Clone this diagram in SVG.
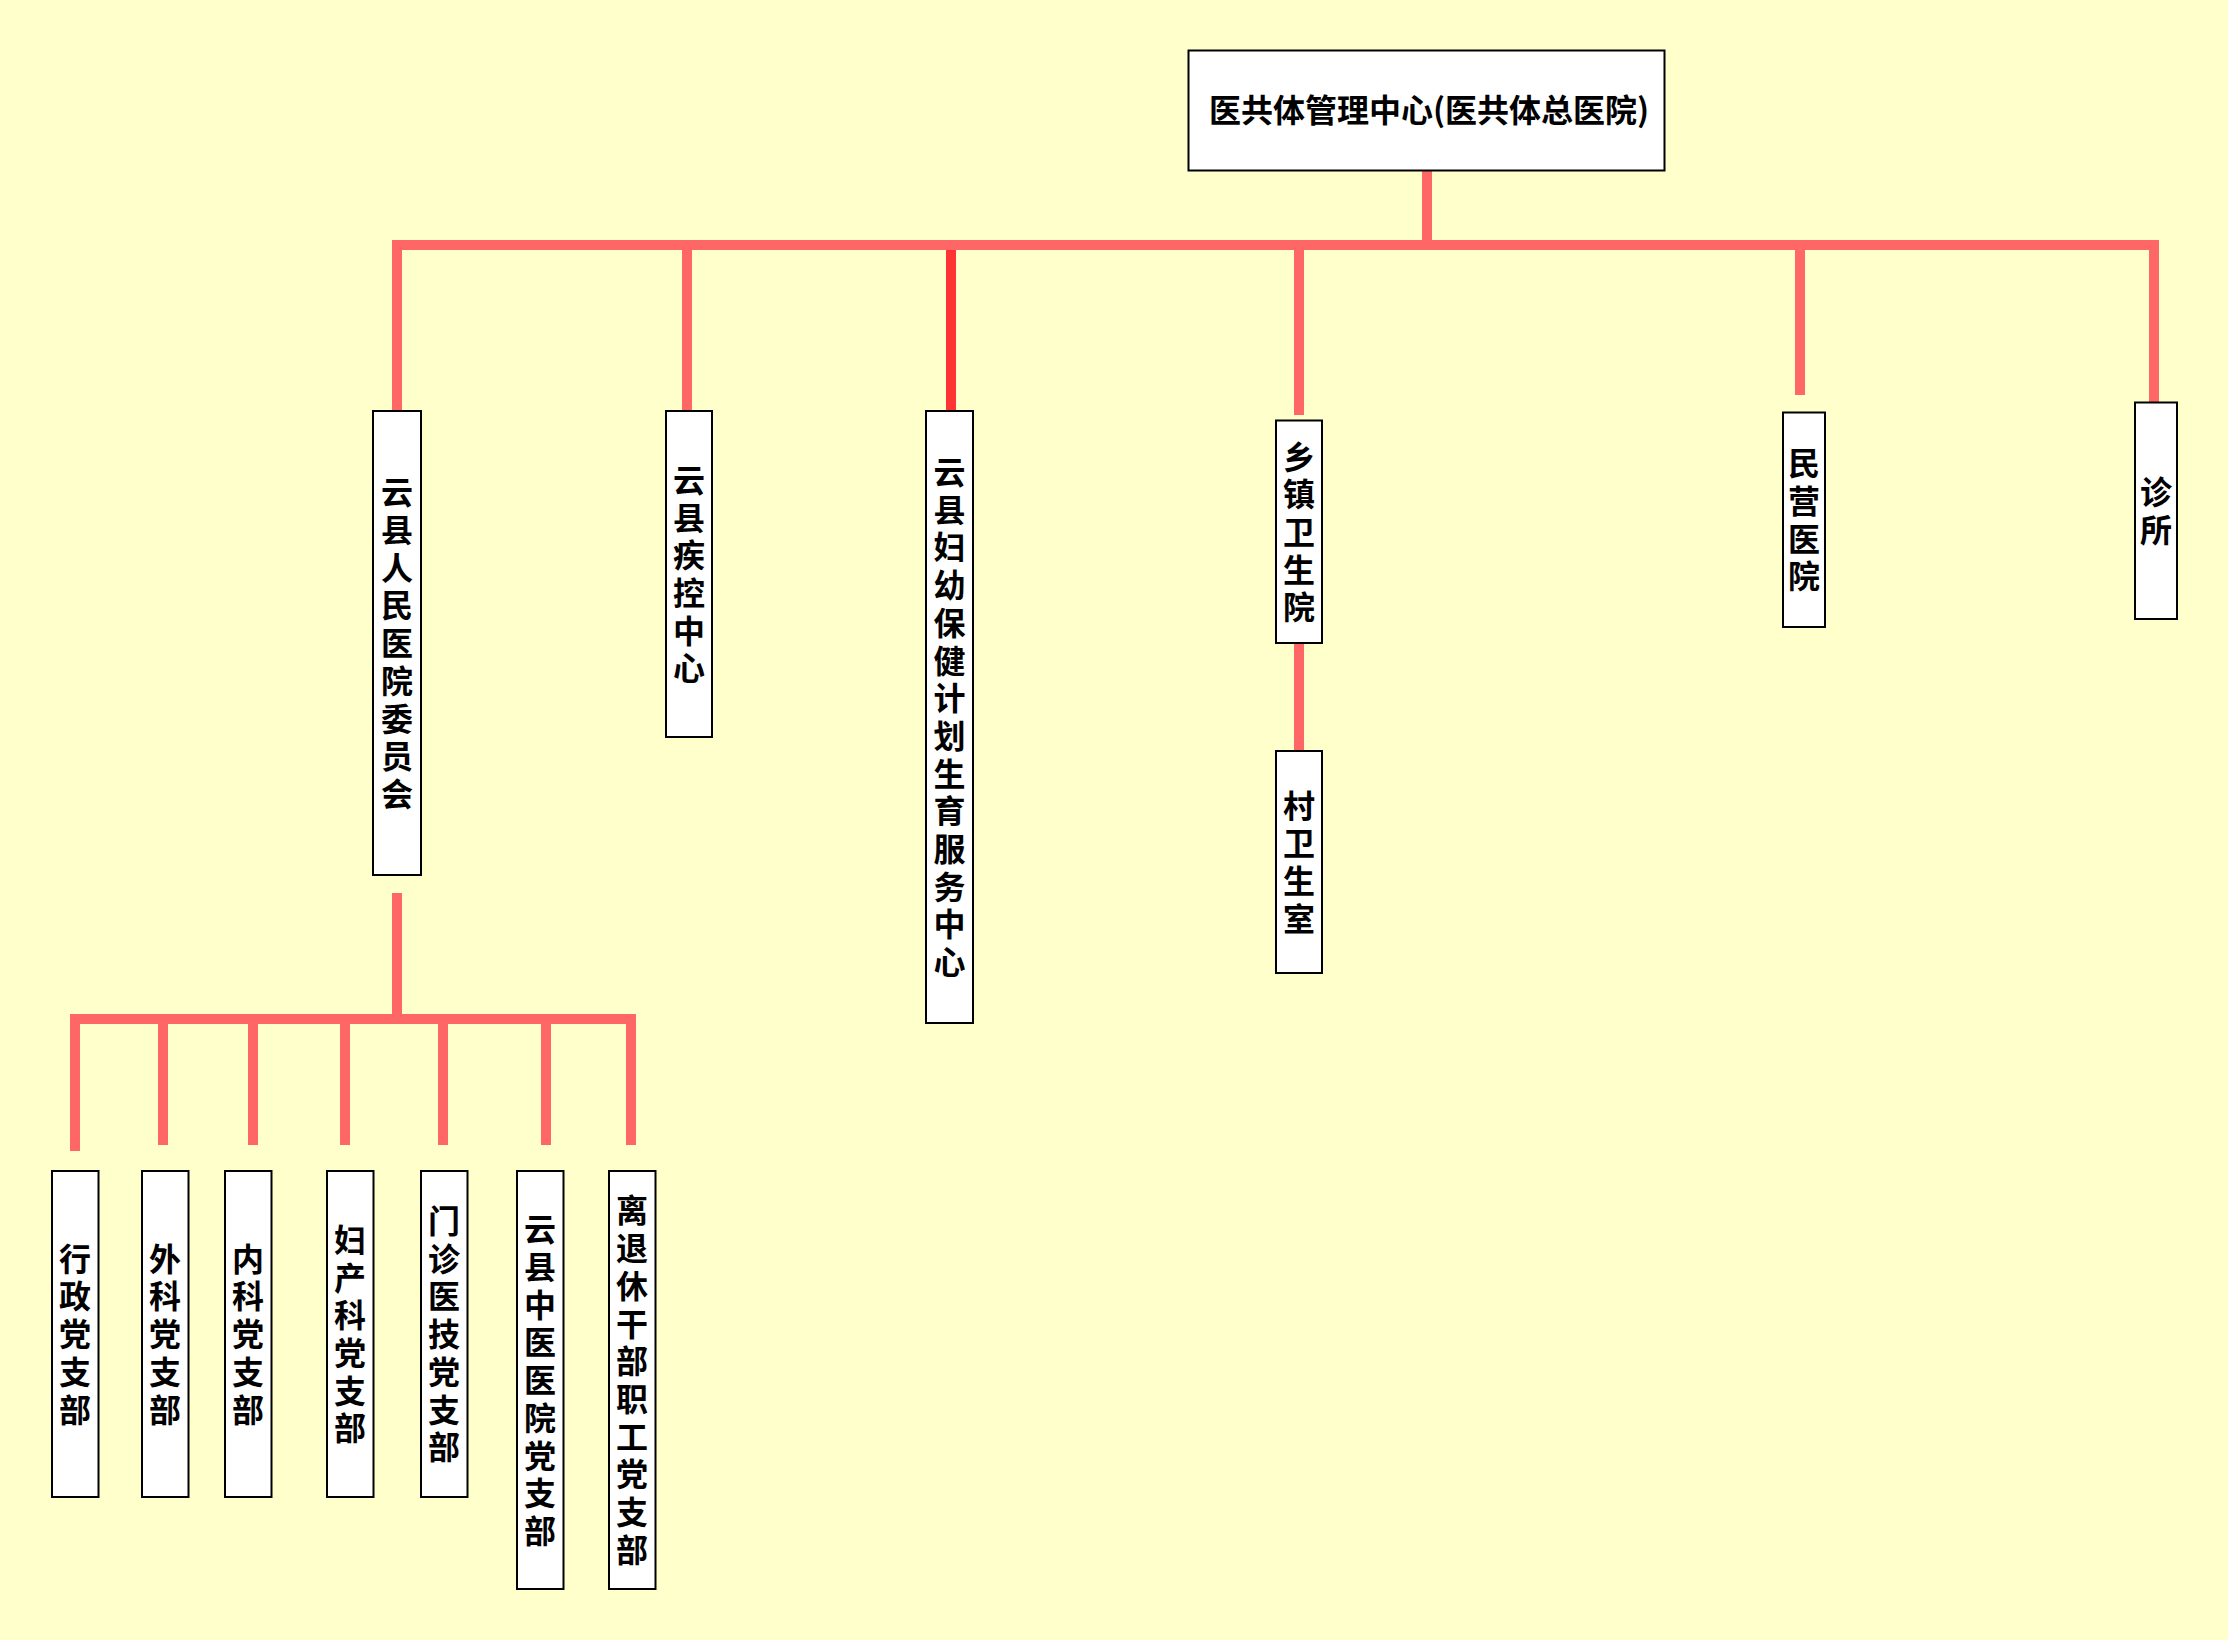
<svg xmlns="http://www.w3.org/2000/svg" width="2228" height="1640" viewBox="0 0 2228 1640">
<style>
.bg{fill:#FFFFCC}
.box{fill:#FFFFFF;stroke:#000000;stroke-width:2}
.ln{fill:none;stroke:#FF6666;stroke-width:10;stroke-linejoin:miter;stroke-linecap:butt}
.ln2{fill:none;stroke:#FF3333;stroke-width:10}
.t{font-family:"Noto Sans CJK SC","Noto Sans",sans-serif;font-weight:700;font-size:32px;fill:#000000;text-anchor:middle;writing-mode:vertical-rl;letter-spacing:5.7px}
.tt{font-family:"Noto Sans CJK SC","Noto Sans",sans-serif;font-weight:700;font-size:32px;fill:#000000;text-anchor:middle}
</style>
<rect class="bg" x="0" y="0" width="2228" height="1640"/>
<g id="connectors">
<path class="ln" d="M1427 171 V245"/>
<path class="ln" d="M397 411 V245 H2154 V403"/>
<path class="ln" d="M687 245 V411"/>
<path class="ln2" d="M951 250 V411"/>
<path class="ln" d="M1299 245 V415"/>
<path class="ln" d="M1299 643 V751"/>
<path class="ln" d="M1800 245 V395"/>
<path class="ln" d="M397 893 V1019"/>
<path class="ln" d="M75 1151 V1019 H631 V1145"/>
<path class="ln" d="M163 1019 V1145"/>
<path class="ln" d="M253 1019 V1145"/>
<path class="ln" d="M345 1019 V1145"/>
<path class="ln" d="M443 1019 V1145"/>
<path class="ln" d="M546 1019 V1145"/>
</g>
<g id="n_root">
<rect class="box" x="1188.5" y="50.5" width="476" height="120"/>
<text class="tt" x="1429" y="122">医共体管理中心(医共体总医院)</text>
</g>
<g id="n_renmin">
<rect class="box" x="373" y="411" width="48" height="464"/>
<text class="t" x="397" y="645.8">云县人民医院委员会</text>
</g>
<g id="n_jikong">
<rect class="box" x="666" y="411" width="46" height="326"/>
<text class="t" x="689" y="576.8">云县疾控中心</text>
</g>
<g id="n_fuyou">
<rect class="box" x="926" y="411" width="47" height="612"/>
<text class="t" x="949.5" y="719.8">云县妇幼保健计划生育服务中心</text>
</g>
<g id="n_xiangzhen">
<rect class="box" x="1276" y="420.5" width="46" height="222.5"/>
<text class="t" x="1299" y="534.6">乡镇卫生院</text>
</g>
<g id="n_cun">
<rect class="box" x="1276" y="751" width="46" height="222"/>
<text class="t" x="1299" y="864.8">村卫生室</text>
</g>
<g id="n_minying">
<rect class="box" x="1783" y="412.5" width="42" height="214.5"/>
<text class="t" x="1804" y="522.6">民营医院</text>
</g>
<g id="n_zhensuo">
<rect class="box" x="2135" y="402.5" width="42" height="216.5"/>
<text class="t" x="2156" y="513.6">诊所</text>
</g>
<g id="n_xingzheng">
<rect class="box" x="52" y="1171" width="46.5" height="326"/>
<text class="t" x="75" y="1336.8">行政党支部</text>
</g>
<g id="n_waike">
<rect class="box" x="142" y="1171" width="46.5" height="326"/>
<text class="t" x="165" y="1336.8">外科党支部</text>
</g>
<g id="n_neike">
<rect class="box" x="225" y="1171" width="46.5" height="326"/>
<text class="t" x="248" y="1336.8">内科党支部</text>
</g>
<g id="n_fuchan">
<rect class="box" x="327" y="1171" width="46.5" height="326"/>
<text class="t" x="350" y="1336.8">妇产科党支部</text>
</g>
<g id="n_menzhen">
<rect class="box" x="421" y="1171" width="46.5" height="326"/>
<text class="t" x="444" y="1336.8">门诊医技党支部</text>
</g>
<g id="n_zhongyi">
<rect class="box" x="517" y="1171" width="46.5" height="418"/>
<text class="t" x="540" y="1382.8">云县中医医院党支部</text>
</g>
<g id="n_lituixiu">
<rect class="box" x="609" y="1171" width="46.5" height="418"/>
<text class="t" x="632" y="1382.8">离退休干部职工党支部</text>
</g>
</svg>
